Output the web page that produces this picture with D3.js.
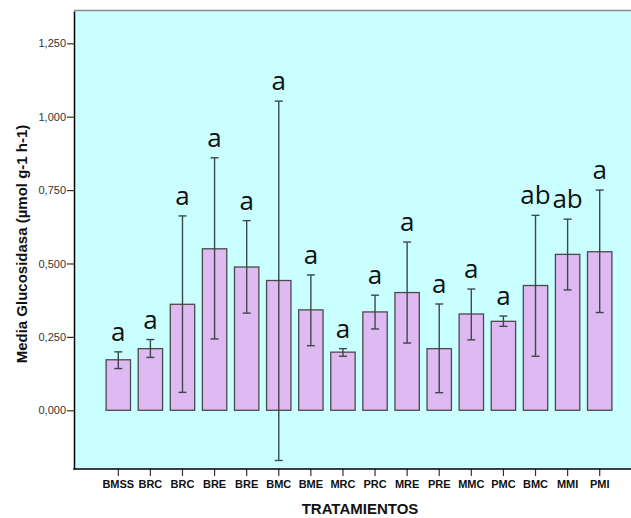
<!DOCTYPE html>
<html>
<head>
<meta charset="utf-8">
<script src="https://cdn.jsdelivr.net/npm/d3@7"></script>
<style>
  html, body { margin: 0; padding: 0; background: #ffffff; }
  svg { display: block; }
</style>
</head>
<body>
<script>
// Treatments, mean glucosidase activity and error-bar limits
const categories = ["BMSS", "BRC", "BRC", "BRE", "BRE", "BMC", "BME", "MRC",
                    "PRC", "MRE", "PRE", "MMC", "PMC", "BMC", "MMI", "PMI"];
const means   = [0.172, 0.210, 0.361, 0.550, 0.488, 0.442, 0.342, 0.198,
                 0.335, 0.401, 0.210, 0.328, 0.303, 0.425, 0.531, 0.540];
const errLow  = [0.142, 0.180, 0.061, 0.243, 0.331, -0.171, 0.220, 0.184,
                 0.277, 0.229, 0.060, 0.240, 0.286, 0.184, 0.410, 0.333];
const errHigh = [0.199, 0.241, 0.662, 0.860, 0.646, 1.053, 0.461, 0.210,
                 0.392, 0.573, 0.362, 0.413, 0.321, 0.664, 0.651, 0.750];
const letters = ["a", "a", "a", "a", "a", "a", "a", "a",
                 "a", "a", "a", "a", "a", "ab", "ab", "a"];
const yTicks  = [0, 0.25, 0.5, 0.75, 1.0, 1.25];

const W = 631, H = 518;
const plot = { left: 74, right: 631, top: 11, bottom: 469 };

const svg = d3.select("body").append("svg")
  .attr("width", W).attr("height", H);

const y = d3.scaleLinear().domain([-0.2, 1.36]).range([plot.bottom, plot.top]);
const x = d3.scaleBand()
  .domain(d3.range(categories.length))
  .range([102.25, 615.75])
  .paddingInner(0.24)
  .paddingOuter(0.12);

const comma = d3.formatLocale({ decimal: ",", thousands: ".", grouping: [3], currency: ["", ""] });
const fmt = comma.format(".3f");

// plot background
svg.append("rect")
  .attr("x", plot.left).attr("y", plot.top)
  .attr("width", plot.right - plot.left).attr("height", plot.bottom - plot.top)
  .attr("fill", "#c9ffff");

// top frame line
svg.append("line")
  .attr("x1", plot.left).attr("x2", plot.right)
  .attr("y1", plot.top - 0.5).attr("y2", plot.top - 0.5)
  .attr("stroke", "#8a8a8a").attr("stroke-width", 1.5);

// bars
svg.append("g").selectAll("rect")
  .data(means)
  .join("rect")
  .attr("x", (d, i) => x(i))
  .attr("width", x.bandwidth())
  .attr("y", d => y(d))
  .attr("height", d => y(0) - y(d))
  .attr("fill", "#deb9f2")
  .attr("stroke", "#4a4a4a")
  .attr("stroke-width", 1.3);

// error bars
const eb = svg.append("g").attr("stroke", "#3e4848").attr("stroke-width", 1.4);
categories.forEach((c, i) => {
  const cx = x(i) + x.bandwidth() / 2;
  eb.append("line").attr("x1", cx).attr("x2", cx)
    .attr("y1", y(errLow[i])).attr("y2", y(errHigh[i]));
  [errLow[i], errHigh[i]].forEach(v => {
    eb.append("line").attr("x1", cx - 4).attr("x2", cx + 4)
      .attr("y1", y(v)).attr("y2", y(v));
  });
});

// significance letters
svg.append("g").selectAll("text")
  .data(letters)
  .join("text")
  .attr("x", (d, i) => x(i) + x.bandwidth() / 2)
  .attr("y", (d, i) => y(Math.max(errHigh[i], means[i])) - 11)
  .attr("text-anchor", "middle")
  .attr("font-family", "'Open Sans', sans-serif")
  .attr("font-size", 26)
  .attr("fill", "#111")
  .text(d => d);

// y axis
const yAxis = svg.append("g")
  .attr("transform", `translate(${plot.left},0)`)
  .call(d3.axisLeft(y).tickValues(yTicks).tickFormat(fmt).tickSize(7).tickSizeOuter(0));
yAxis.select(".domain").attr("stroke", "#000").attr("stroke-width", 1.5);
yAxis.selectAll(".tick line").attr("stroke", "#333").attr("stroke-width", 1.2);
yAxis.selectAll(".tick text")
  .attr("x", -8)
  .attr("font-family", "Arial, 'Liberation Sans', sans-serif")
  .attr("font-size", 11)
  .attr("fill", "#333");

// x axis
const xAxis = svg.append("g")
  .attr("transform", `translate(0,${plot.bottom})`)
  .call(d3.axisBottom(x).tickFormat(i => categories[i]).tickSize(7).tickSizeOuter(0));
xAxis.select(".domain").remove();
xAxis.selectAll(".tick line").attr("stroke", "#333").attr("stroke-width", 1.2);
xAxis.selectAll(".tick text")
  .attr("y", 11)
  .attr("font-family", "Arial, 'Liberation Sans', sans-serif")
  .attr("font-weight", "bold")
  .attr("font-size", 11)
  .attr("fill", "#111");
svg.append("line")
  .attr("x1", plot.left - 0.75).attr("x2", plot.right)
  .attr("y1", plot.bottom).attr("y2", plot.bottom)
  .attr("stroke", "#000").attr("stroke-width", 1.5);

// axis titles
svg.append("text")
  .attr("x", 360).attr("y", 514)
  .attr("text-anchor", "middle")
  .attr("font-family", "Arial, 'Liberation Sans', sans-serif")
  .attr("font-weight", "bold")
  .attr("font-size", 15)
  .attr("fill", "#111")
  .text("TRATAMIENTOS");

svg.append("text")
  .attr("transform", "translate(27,244) rotate(-90)")
  .attr("text-anchor", "middle")
  .attr("font-family", "Arial, 'Liberation Sans', sans-serif")
  .attr("font-weight", "bold")
  .attr("font-size", 15)
  .attr("fill", "#111")
  .text("Media Glucosidasa (µmol g-1 h-1)");
</script>
</body>
</html>
